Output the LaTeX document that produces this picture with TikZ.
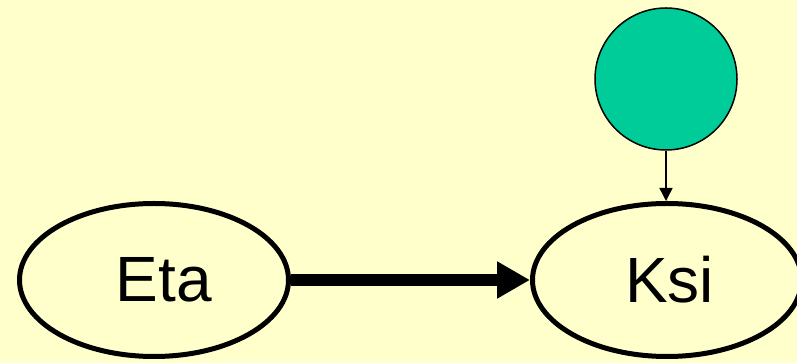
\documentclass[tikz,border=0pt]{standalone}
\usepackage{fontspec}
\setmainfont{Liberation Sans}
\usetikzlibrary{shapes.geometric,arrows.meta}
\definecolor{bgyellow}{HTML}{FFFFCC}
\definecolor{nodegreen}{HTML}{00CC99}
\begin{document}
\begin{tikzpicture}[x=1pt,y=1pt,
  var/.style={ellipse,draw=black,line width=5pt,fill=bgyellow,inner sep=0pt,
    minimum width=269pt,minimum height=153pt,font=\fontsize{64}{64}\selectfont},
  latent/.style={circle,draw=black,line width=1.5pt,fill=nodegreen,inner sep=0pt,minimum size=142pt},
  bigarrow/.style={line width=12pt,-{Triangle[length=33pt,width=35pt]}},
  smallarrow/.style={line width=1.5pt,-{Triangle[length=13pt,width=13pt]}}]
\useasboundingbox[fill=bgyellow] (0,0) rectangle (797,363);
\node[var] (eta) at (154,83) {\hspace*{20pt}Eta};
\node[var] (ksi) at (667,83) {\hspace*{5pt}Ksi};
\node[latent] (err) at (666,284) {};
\draw[bigarrow] (eta.east) -- (ksi.west);
\draw[smallarrow] (err.south) -- (err.south |- ksi.north);
\end{tikzpicture}
\end{document}
